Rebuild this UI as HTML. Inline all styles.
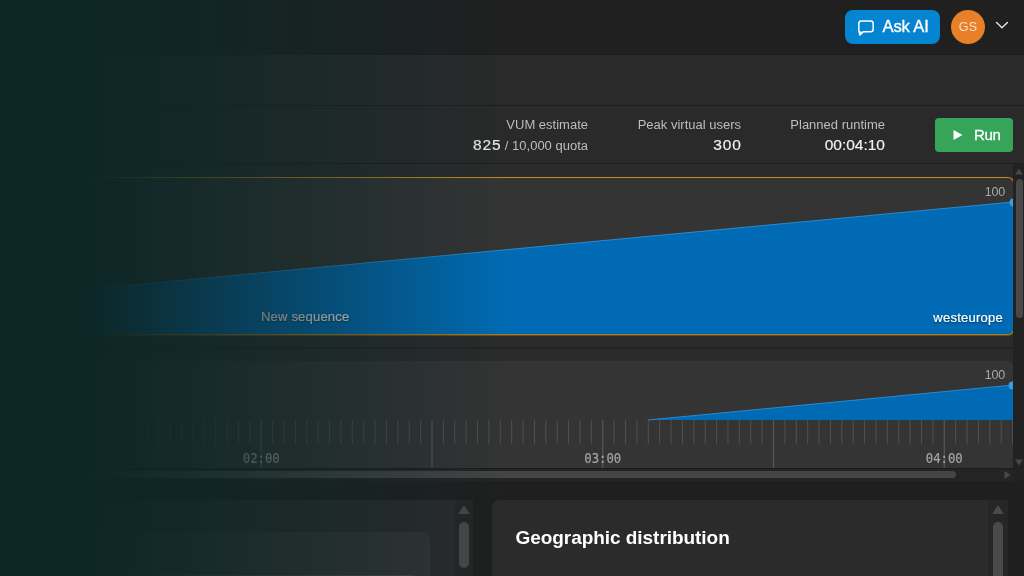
<!DOCTYPE html>
<html lang="en">
<head>
<meta charset="utf-8">
<title>Load test</title>
<style>
*{box-sizing:border-box;margin:0;padding:0}
html,body{width:1024px;height:576px;overflow:hidden;background:#1f1f1f}
body{font-family:"Liberation Sans",sans-serif;color:#eee;position:relative}
.abs{position:absolute}
#topbar{left:0;top:0;width:1024px;height:55px;background:#202020;border-bottom:1px solid #1d1d1d}
#band1{left:0;top:55px;width:1024px;height:51px;background:#2a2a2a;border-bottom:1px solid #1e1e1e}
#band2{left:0;top:106px;width:1024px;height:58px;background:#2a2a2a;border-bottom:1px solid #1e1e1e}
#tracks{left:0;top:164px;width:1013px;height:305px;background:#2b2b2b}
#vscroll{left:1013px;top:164px;width:11px;height:305px;background:#222;z-index:2}
#ask{left:845px;top:10px;width:95px;height:34px;border-radius:8px;background:#0584d2;color:#fff;font-size:16px}
#ask span{position:absolute;left:37.5px;top:7.6px;line-height:18px;font-size:16.6px;letter-spacing:-0.15px;-webkit-text-stroke:0.35px #fff}
#avatar{left:951px;top:10px;width:34px;height:34px;border-radius:50%;background:#e8802a;color:#fadfc8;font-size:12.5px;text-align:center;line-height:34.5px;letter-spacing:0.3px}
.sl{font-size:13px;color:#bdbdbd;line-height:16px;white-space:nowrap;transform:scaleY(1.04);transform-origin:50% 80%}
.sv{font-size:15.5px;color:#f0f0f0;line-height:18px;white-space:nowrap;-webkit-text-stroke:0.18px #f0f0f0}
.sv .ls{letter-spacing:0.9px;margin-right:-0.9px}
.sv small{font-size:13px;color:#bdbdbd;-webkit-text-stroke:0;display:inline-block;transform:scaleY(1.04);transform-origin:50% 80%}
#run{left:935px;top:118px;width:78px;height:34px;border-radius:4px;background:#37a559;color:#fff;font-size:15px}
#run span{position:absolute;left:39px;top:8px;line-height:18px;letter-spacing:-0.3px;-webkit-text-stroke:0.3px #fff}
#t1{left:-420px;top:177px;width:1434px;height:158px;background:#343434;border:1px solid #c4901c;border-bottom-color:rgba(196,144,28,.8);box-shadow:0 1px 0 rgba(170,125,30,.45);border-radius:6px;overflow:hidden}
#t2{left:-420px;top:361px;width:1433px;height:107px;background:#343434;border-radius:6px 6px 0 0;overflow:hidden}
.n100{font-size:12.5px;color:#a8a8a8;line-height:14px;letter-spacing:-0.2px}
.lbl{font-size:13px;line-height:16px;text-shadow:0 1px 2px rgba(0,0,0,.6)}
.mono{font-family:"DejaVu Sans Mono","Liberation Mono",monospace;font-size:12.3px;color:#a4a4a4;-webkit-text-stroke:0.2px #a4a4a4;line-height:14px;width:60px;text-align:center;transform:scaleY(1.09);transform-origin:50% 80%}
#hscroll{left:0;top:469px;width:1013px;height:12px;background:#242424}
#gap{left:0;top:481px;width:1024px;height:19px;background:#1f1f1f}
#lp{left:0;top:500px;width:455px;height:76px;background:#2b2b2b}
#lps{left:455px;top:500px;width:18px;height:76px;background:#262626}
#rp{left:492px;top:500px;width:496px;height:76px;background:#2b2b2b;border-radius:8px 0 0 0}
#rps{left:988px;top:500px;width:20px;height:76px;background:#262626}
#geo{left:515.5px;top:527px;font-size:19px;font-weight:bold;color:#fff;line-height:22px;white-space:nowrap;letter-spacing:-0.05px}
#overlay{z-index:10;left:0;top:0;width:1024px;height:576px;background:linear-gradient(to right,#0d2626 0px,#0d2626 88px,rgba(13,38,38,0) 512px)}
</style>
</head>
<body>
<div id="topbar" class="abs"></div>
<div id="band1" class="abs"></div>
<div id="band2" class="abs"></div>

<div id="ask" class="abs">
  <svg class="abs" style="left:12px;top:9px" width="18" height="18" viewBox="0 0 18 18" fill="none" stroke="#fff" stroke-width="1.5" stroke-linejoin="round" stroke-linecap="round"><path d="M1.85 4.55a2.5 2.5 0 0 1 2.5-2.5h9.3a2.5 2.5 0 0 1 2.5 2.5v5.7a2.5 2.5 0 0 1-2.5 2.5H6.4L2.9 15.9L1.85 11.6z"/><path d="M2.2 12.2l3.6.6l-2.8 2.6z" fill="#fff" stroke="none"/></svg>
  <span>Ask AI</span>
</div>
<div id="avatar" class="abs">GS</div>
<svg class="abs" style="left:994px;top:19px" width="16" height="14" viewBox="0 0 16 14" fill="none" stroke="#e4e4e4" stroke-width="1.4" stroke-linecap="round" stroke-linejoin="round"><path d="M2.6 3.4l5.4 5.4l5.4-5.4"/></svg>

<div class="abs sl" style="right:436px;top:117px">VUM estimate</div>
<div class="abs sv" style="right:436px;top:136px"><span class="ls">825</span> <small>/ 10,000 quota</small></div>
<div class="abs sl" style="right:283px;top:117px">Peak virtual users</div>
<div class="abs sv" style="right:283px;top:136px"><span class="ls">300</span></div>
<div class="abs sl" style="right:139px;top:117px">Planned runtime</div>
<div class="abs sv" style="right:139px;top:136px">00:04:10</div>
<div id="run" class="abs">
  <svg class="abs" style="left:17px;top:11px" width="12" height="12" viewBox="0 0 12 12"><path d="M1.5 1l9 5l-9 5z" fill="#fff"/></svg>
  <span>Run</span>
</div>

<div id="tracks" class="abs"></div>
<div class="abs" style="left:0;top:347px;width:1013px;height:2px;background:#242424"></div>
<div id="vscroll" class="abs">
  <svg class="abs" style="left:2px;top:4px" width="8" height="7" viewBox="0 0 8 7"><path d="M0 6.5l4-6l4 6z" fill="#484848"/></svg>
  <div class="abs" style="left:3px;top:15px;width:7px;height:139px;border-radius:4px;background:#484848"></div>
  <svg class="abs" style="left:2px;top:295px" width="8" height="7" viewBox="0 0 8 7"><path d="M0 .5l4 6l4-6z" fill="#484848"/></svg>
</div>

<div id="t1" class="abs">
  <svg class="abs" style="left:0;top:0" width="1433" height="158" viewBox="0 0 1433 158"><path d="M20 157L1432 24V157z" fill="#006bb4"/><path d="M20 157L1432 24" stroke="#2a8bd0" stroke-width="1" fill="none"/><circle cx="1432.5" cy="24.5" r="4" fill="#3a9be0"/></svg>
  <div class="abs n100" style="right:8px;top:7px">100</div>
  <div class="abs lbl" style="left:680px;top:131px;color:rgba(255,255,255,.92);letter-spacing:0.2px;-webkit-text-stroke:0.2px rgba(255,255,255,.9)">New sequence</div>
  <div class="abs lbl" style="right:10px;top:131.5px;color:#fff;letter-spacing:0.25px;-webkit-text-stroke:0.2px #fff">westeurope</div>
</div>

<div id="t2" class="abs">
  <svg class="abs" style="left:0;top:0" width="1433" height="107" viewBox="0 0 1433 107"><path d="M1068 59L1433 24V59z" fill="#006bb4"/><path d="M1068 59L1433 24" stroke="#2a8bd0" stroke-width="1" fill="none"/><circle cx="1432.5" cy="24.5" r="4" fill="#3a9be0"/></svg>
  <div class="abs n100" style="right:8px;top:7px">100</div>
</div>
<div class="abs" style="left:0;top:468px;width:1013px;height:2px;background:#1c1c1c"></div>
<svg class="abs" style="left:0;top:420px" width="1013" height="48" viewBox="0 0 1013 48" fill="none"><path d="M67.74 0v24M79.12 0v24M101.89 0v24M113.27 0v24M124.65 0v24M136.04 0v24M147.42 0v24M158.80 0v24M170.19 0v24M181.57 0v24M192.95 0v24M204.34 0v24M215.72 0v24M227.10 0v24M238.49 0v24M249.87 0v24M272.64 0v24M284.02 0v24M295.40 0v24M306.79 0v24M318.17 0v24M329.55 0v24M340.94 0v24M352.32 0v24M363.70 0v24M375.09 0v24M386.47 0v24M397.85 0v24M409.23 0v24M420.62 0v24M443.38 0v24M454.77 0v24M466.15 0v24M477.53 0v24M488.92 0v24M500.30 0v24M511.68 0v24M523.07 0v24M534.45 0v24M545.83 0v24M557.22 0v24M568.60 0v24M579.98 0v24M591.37 0v24M614.13 0v24M625.52 0v24M636.90 0v24M648.28 0v24M659.67 0v24M671.05 0v24M682.43 0v24M693.82 0v24M705.20 0v24M716.58 0v24M727.97 0v24M739.35 0v24M750.73 0v24M762.12 0v24M784.88 0v24M796.27 0v24M807.65 0v24M819.03 0v24M830.42 0v24M841.80 0v24M853.18 0v24M864.57 0v24M875.95 0v24M887.33 0v24M898.72 0v24M910.10 0v24M921.48 0v24M932.87 0v24M955.63 0v24M967.02 0v24M978.40 0v24M989.78 0v24M1001.17 0v24M1012.55 0v24" stroke="#515151" stroke-width="1"/><path d="M90.50 0v48M261.25 0v48M432.00 0v48M602.75 0v48M773.50 0v48M944.25 0v48" stroke="#5a5a5a" stroke-width="1.1"/></svg>
<div class="abs mono" style="left:231.25px;top:451.7px">02:00</div>
<div class="abs mono" style="left:572.75px;top:451.7px">03:00</div>
<div class="abs mono" style="left:914.25px;top:451.7px">04:00</div>

<div id="hscroll" class="abs">
  <div class="abs" style="left:-20px;top:2px;width:976px;height:7px;border-radius:4px;background:#454545"></div>
  <svg class="abs" style="left:1003.5px;top:2px" width="7" height="8" viewBox="0 0 7 8"><path d="M.5 0l6 4l-6 4z" fill="#484848"/></svg>
</div>
<div class="abs" style="left:1013px;top:469px;width:11px;height:12px;background:#222"></div>
<div id="gap" class="abs"></div>
<div id="lp" class="abs"><div class="abs" style="left:0;top:32px;width:430px;height:60px;border-radius:8px;background:#343434"></div><div class="abs" style="left:16px;top:75px;width:398px;height:1px;background:#474747"></div></div>
<div id="lps" class="abs">
  <svg class="abs" style="left:3px;top:5px" width="12" height="9" viewBox="0 0 12 9"><path d="M1 8.5L6 .8l5 7.7z" fill="#4a4a4a" stroke="#4a4a4a" stroke-width="1" stroke-linejoin="round"/></svg>
  <div class="abs" style="left:3.5px;top:21.5px;width:10.5px;height:46px;border-radius:5.25px;background:#4a4a4a"></div>
</div>
<div id="rp" class="abs"></div>
<div id="rps" class="abs">
  <svg class="abs" style="left:4px;top:5px" width="12" height="9" viewBox="0 0 12 9"><path d="M1 8.5L6 .8l5 7.7z" fill="#4a4a4a" stroke="#4a4a4a" stroke-width="1" stroke-linejoin="round"/></svg>
  <div class="abs" style="left:4.75px;top:22px;width:10.5px;height:70px;border-radius:5.25px;background:#4a4a4a"></div>
</div>
<div id="geo" class="abs">Geographic distribution</div>

<div id="overlay" class="abs"></div>
</body>
</html>
